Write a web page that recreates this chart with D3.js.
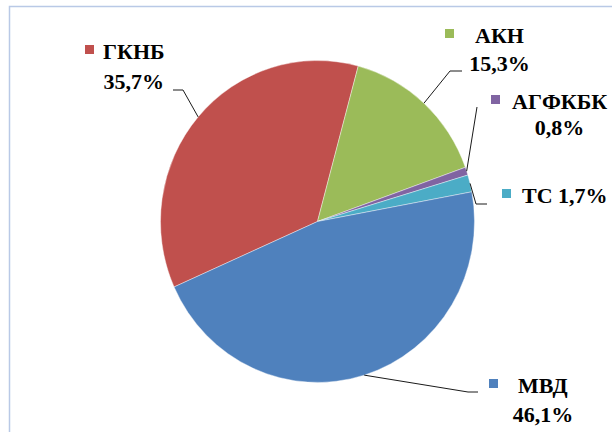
<!DOCTYPE html>
<html><head><meta charset="utf-8">
<script src="https://cdn.jsdelivr.net/npm/d3@7"></script>
<style>html,body{margin:0;padding:0;background:#fff;overflow:hidden;}svg{display:block;}</style>
</head><body>
<script>
const categories = ["ГКНБ", "АКН", "АГФКБК", "ТС", "МВД"];
const values = [35.7, 15.3, 0.8, 1.7, 46.1];
const valueLabels = ["35,7%", "15,3%", "0,8%", "1,7%", "46,1%"];
const colors = ["#C0504D", "#9BBB59", "#8064A2", "#4BACC6", "#4F81BD"];

const FONT = "'Times New Roman', 'Liberation Serif', Tinos, 'DejaVu Serif', 'Noto Serif', serif";
const W = 612, H = 432;
const svg = d3.select("body").append("svg").attr("width", W).attr("height", H)
  .style("overflow", "hidden");

svg.append("path").attr("d", `M9.5,${H + 5}V6.5H${W + 5}`)
  .attr("fill", "none").attr("stroke", "#b9c9e6").attr("stroke-width", 1.5);

const cx = 317.5, cy = 221.5, r = 157, sy = 1.025;
const start = -114 * Math.PI / 180;
const pie = d3.pie().sort(null).value(d => d).startAngle(start).endAngle(start + 2 * Math.PI);
const arcs = pie(values);
const arc = d3.arc().innerRadius(0).outerRadius(r);

const g = svg.append("g").attr("transform", `translate(${cx},${cy}) scale(1,${sy})`);
g.selectAll("path").data(arcs).enter().append("path")
  .attr("d", arc).attr("fill", (d, i) => colors[i])
  .attr("stroke", "#ffffff").attr("stroke-width", 0.4);

function edge(a) {
  const m = (a.startAngle + a.endAngle) / 2;
  return [cx + r * Math.sin(m), cy - r * sy * Math.cos(m)];
}

const layout = [
  { mx: 85, y1: 59, tx: 103, y2: 89, pts: [[183, 90], [173, 90]] },
  { mx: 445, y1: 43, tx: 475, y2: 71, pts: [[450, 71], [462, 71]] },
  { mx: 491, y1: 109, tx: 512, y2: 135, pts: [[477, 107]] },
  { mx: 502, y1: 203, tx: 522, y2: null, pts: [[476, 204], [487, 204]] },
  { mx: 489, y1: 393, tx: 518, y2: 422, pts: [[468, 392], [478, 392]] }
];

const line = d3.line();
arcs.forEach((a, i) => {
  const L = layout[i];
  svg.append("path").attr("d", line([edge(a)].concat(L.pts)))
    .attr("fill", "none").attr("stroke", "#1a1a1a").attr("stroke-width", 1);
  svg.append("rect").attr("x", L.mx).attr("y", L.y1 - 14).attr("width", 9).attr("height", 9)
    .attr("fill", colors[i]);
  const t1 = svg.append("text").attr("x", L.tx).attr("y", L.y1)
    .style("font-family", FONT).style("font-weight", "bold")
    .attr("font-size", 22).attr("fill", "#000")
    .text(L.y2 === null ? categories[i] + " " + valueLabels[i] : categories[i]);
  if (L.y2 !== null) {
    const w = t1.node().getComputedTextLength();
    svg.append("text").attr("x", L.tx + w / 2).attr("y", L.y2).attr("text-anchor", "middle")
      .style("font-family", FONT).style("font-weight", "bold")
      .attr("font-size", 22).attr("fill", "#000").text(valueLabels[i]);
  }
});
</script>
</body></html>
